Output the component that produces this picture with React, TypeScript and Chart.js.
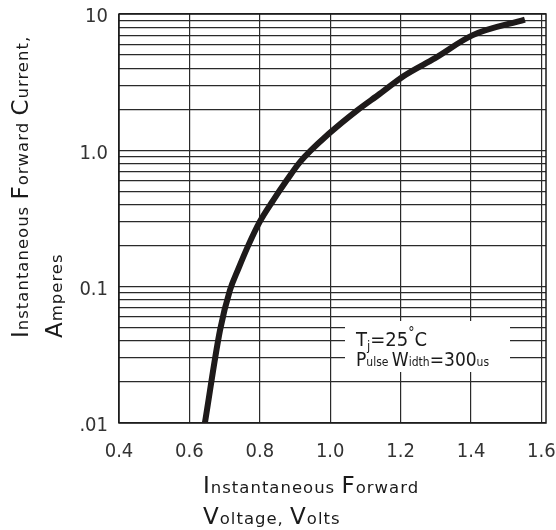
import React, { useEffect, useRef } from 'react';
import { Chart, registerables } from 'chart.js';
Chart.register(...registerables);

// ---- data ----
const voltage = [0.644, 0.687, 0.715, 0.739, 0.767, 0.8, 0.838, 0.876, 0.914, 1.0, 1.075, 1.141, 1.208, 1.298, 1.405, 1.553];
const current = [0.01, 0.048, 0.094, 0.135, 0.2, 0.3, 0.43, 0.6, 0.82, 1.35, 1.95, 2.6, 3.5, 4.75, 7.0, 9.1];

const xTickValues = [0.4, 0.6, 0.8, 1.0, 1.2, 1.4, 1.6];
const xTickLabels = ['0.4', '0.6', '0.8', '1.0', '1.2', '1.4', '1.6'];

const yGridValues = [
  0.01, 0.02, 0.03, 0.04, 0.05, 0.06, 0.07, 0.08, 0.09,
  0.1, 0.2, 0.3, 0.4, 0.5, 0.6, 0.7, 0.8, 0.9,
  1, 2, 3, 4, 5, 6, 7, 8, 9, 10,
];
const yLabeledValues = [0.01, 0.1, 1, 10];
const yTickLabels = ['.01', '0.1', '1.0', '10'];

// text parts: [text, style]  style: 'C' = capital size, 'l' = small size
type Part = [string, string];
const xTitleLine1: Part[] = [['I', 'C'], ['nstantaneous ', 'l'], ['F', 'C'], ['orward', 'l']];
const xTitleLine2: Part[] = [['V', 'C'], ['oltage, ', 'l'], ['V', 'C'], ['olts', 'l']];
const yTitleLine1: Part[] = [['I', 'C'], ['nstantaneous ', 'l'], ['F', 'C'], ['orward ', 'l'], ['C', 'C'], ['urrent,', 'l']];
const yTitleLine2: Part[] = [['A', 'C'], ['mperes', 'l']];
const noteLine1: Part[] = [['T', 'C'], ['j', 'sub'], ['=25', 'C'], ['°', 'sup'], ['C', 'C']];
const noteLine2: Part[] = [['P', 'C'], ['ulse ', 'l'], ['W', 'C'], ['idth', 'l'], ['=300', 'C'], ['us', 'l']];

const TITLE_FONT = '"DejaVu Sans", sans-serif';
const NUM_FONT = '"Liberation Sans Narrow", "DejaVu Sans Condensed", Roboto, sans-serif';

function drawParts(
  ctx: CanvasRenderingContext2D,
  parts: Part[],
  x: number,
  y: number,
  family: string,
  sizes: Record<string, number>,
  spacing = 0,
) {
  let cx = x;
  (ctx as any).letterSpacing = `${spacing}px`;
  for (const [t, s] of parts) {
    let size = sizes[s] ?? sizes.C;
    let dy = 0;
    if (s === 'sub') { size = sizes.sub; dy = 4; }
    if (s === 'sup') { size = sizes.sup; dy = -9; }
    ctx.font = `${size}px ${family}`;
    ctx.fillText(t, cx, y + dy);
    cx += ctx.measureText(t).width;
  }
  (ctx as any).letterSpacing = '0px';
}

const decorPlugin = {
  id: 'decor',
  beforeDatasetsDraw(chart: any) {
    const { ctx, chartArea: a } = chart;
    ctx.save();
    // white label box
    ctx.fillStyle = '#ffffff';
    ctx.fillRect(345, 321, 165, 51);
    // frame
    ctx.strokeStyle = '#1a1a1a';
    ctx.lineWidth = 1.5;
    ctx.strokeRect(a.left, a.top, a.right - a.left, a.bottom - a.top);
    // note text
    ctx.fillStyle = '#1a1a1a';
    ctx.textBaseline = 'alphabetic';
    drawParts(ctx, noteLine1, 356, 346, NUM_FONT, { C: 20, l: 13, sub: 13, sup: 14 });
    drawParts(ctx, noteLine2, 356, 366, NUM_FONT, { C: 19, l: 12, sub: 12, sup: 12 });
    ctx.restore();
  },
  afterDraw(chart: any) {
    const { ctx } = chart;
    ctx.save();
    ctx.fillStyle = '#1a1a1a';
    ctx.textBaseline = 'alphabetic';
    const sizes = { C: 23, l: 16.5 };
    drawParts(ctx, xTitleLine1, 203, 493, TITLE_FONT, sizes, 1);
    drawParts(ctx, xTitleLine2, 203, 524, TITLE_FONT, sizes, 1);
    ctx.translate(28, 338);
    ctx.rotate(-Math.PI / 2);
    drawParts(ctx, yTitleLine1, 0, 0, TITLE_FONT, sizes, 1);
    drawParts(ctx, yTitleLine2, 0, 34, TITLE_FONT, sizes, 1);
    ctx.restore();
  },
};

export default function App() {
  const ref = useRef<HTMLCanvasElement | null>(null);
  useEffect(() => {
    document.body.style.margin = '0';
    if (!ref.current) return;
    const chart = new Chart(ref.current, {
      type: 'line',
      data: {
        datasets: [
          {
            data: voltage.map((v, i) => ({ x: v, y: current[i] })),
            borderColor: '#1e1a1a',
            borderWidth: 6,
            pointRadius: 0,
            cubicInterpolationMode: 'monotone',
            fill: false,
          },
        ],
      },
      options: {
        animation: false,
        responsive: true,
        maintainAspectRatio: false,
        layout: { padding: { left: 0, top: 14, right: 10, bottom: 0 } },
        plugins: { legend: { display: false }, tooltip: { enabled: false } },
        scales: {
          x: {
            type: 'linear',
            min: 0.4,
            max: 1.613,
            afterBuildTicks: (s: any) => {
              s.ticks = xTickValues.map((v) => ({ value: v }));
            },
            afterFit: (s: any) => {
              s.height = 107;
              s.paddingLeft = 0;
              s.paddingRight = 0;
              s.paddingTop = 0;
              s.paddingBottom = 0;
            },
            grid: { color: '#2a2a2a', lineWidth: 1.2, drawTicks: false },
            border: { display: false },
            ticks: {
              autoSkip: false,
              maxRotation: 0,
              padding: 17,
              color: '#333',
              font: { family: NUM_FONT, size: 20 },
              callback: (v: any) => {
                const i = xTickValues.findIndex((t) => Math.abs(t - Number(v)) < 1e-6);
                return i >= 0 ? xTickLabels[i] : '';
              },
            },
          },
          y: {
            type: 'logarithmic',
            min: 0.01,
            max: 10,
            afterBuildTicks: (s: any) => {
              s.ticks = yGridValues.map((v) => ({ value: v }));
            },
            afterFit: (s: any) => {
              s.width = 119;
              s.paddingLeft = 0;
              s.paddingRight = 0;
              s.paddingTop = 0;
              s.paddingBottom = 0;
            },
            grid: { color: '#2a2a2a', lineWidth: 1.2, drawTicks: false },
            border: { display: false },
            ticks: {
              autoSkip: false,
              padding: 11,
              labelOffset: 3,
              color: '#333',
              font: { family: NUM_FONT, size: 20 },
              callback: (v: any) => {
                const i = yLabeledValues.findIndex((t) => Math.abs(t - Number(v)) < 1e-9);
                return i >= 0 ? yTickLabels[i] : '';
              },
            },
          },
        },
      },
      plugins: [decorPlugin],
    } as any);
    return () => chart.destroy();
  }, []);
  return (
    <div style={{ position: 'relative', width: 556, height: 530 }}>
      <canvas ref={ref} />
    </div>
  );
}
